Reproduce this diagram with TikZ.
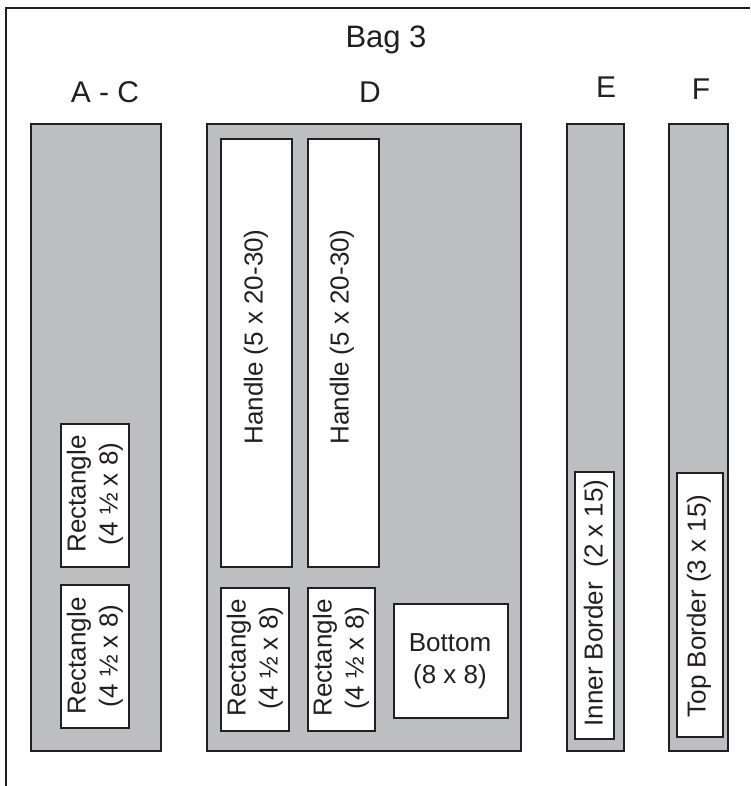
\documentclass[tikz,border=0pt]{standalone}
\usepackage{fontspec}
\setmainfont{Liberation Sans}
\definecolor{ink}{HTML}{231F20}
\definecolor{panelgray}{HTML}{BCBEC0}
\begin{document}
\begin{tikzpicture}[x=1pt,y=-1pt,
  panel/.style={draw=ink, fill=panelgray, line width=2pt, rectangle, inner sep=0pt, anchor=north west},
  piece/.style={draw=ink, fill=white, line width=2pt, rectangle, inner sep=0pt, anchor=north west},
  lbl/.style={text=ink, font=\fontsize{26}{32}\selectfont, align=center, inner sep=0pt},
  ttl/.style={text=ink, font=\fontsize{30}{36}\selectfont, inner sep=0pt, anchor=base}]
\useasboundingbox (0,0) rectangle (750,786);
% frame
\coordinate (fbl) at (6,786);
\coordinate (ftl) at (6,8);
\coordinate (ftr) at (750,8);
\draw[ink, line width=2pt] (fbl) -- (ftl) -- (ftr);
% titles
\node[ttl, font=\fontsize{31}{36}\selectfont] (bag) at (386,48) {Bag 3};
\node[ttl] (tac) at (105,103) {A - C};
\node[ttl] (td) at (370,103) {D};
\node[ttl] (te) at (606,98) {E};
\node[ttl] (tf) at (701,100) {F};
% panels
\node[panel, minimum width=130pt, minimum height=627pt] (ac) at (30,123) {};
\node[panel, minimum width=314pt, minimum height=627pt] (d) at (206,123) {};
\node[panel, minimum width=57pt, minimum height=627pt] (e) at (566,123) {};
\node[panel, minimum width=59pt, minimum height=627pt] (f) at (668,123) {};
% pieces
\node[piece, minimum width=68pt, minimum height=143pt] (ac1) at (60,423) {};
\node[piece, minimum width=68pt, minimum height=143pt] (ac2) at (60,584) {};
\node[piece, minimum width=71pt, minimum height=428pt] (h1) at (220,138) {};
\node[piece, minimum width=71pt, minimum height=428pt] (h2) at (307,138) {};
\node[piece, minimum width=68pt, minimum height=143pt] (d1) at (220,587) {};
\node[piece, minimum width=67pt, minimum height=143pt] (d2) at (307,587) {};
\node[piece, minimum width=114pt, minimum height=114pt] (bot) at (393,603) {};
\node[piece, minimum width=39pt, minimum height=267pt] (ib) at (574,471) {};
\node[piece, minimum width=46pt, minimum height=264pt] (tb) at (676,472) {};
% labels
\node[lbl, rotate=90] (lac1) at (95,494) {Rectangle\\(4 ½ x 8)};
\node[lbl, rotate=90] (lac2) at (95,656) {Rectangle\\(4 ½ x 8)};
\node[lbl, rotate=90] (ld1) at (255,658) {Rectangle\\(4 ½ x 8)};
\node[lbl, rotate=90] (ld2) at (341,658) {Rectangle\\(4 ½ x 8)};
\node[lbl, rotate=90] (lh1) at (256,337) {Handle (5 x 20-30)};
\node[lbl, rotate=90] (lh2) at (342,337) {Handle (5 x 20-30)};
\node[lbl] (lbot) at (450,661) {Bottom\\(8 x 8)};
\node[lbl, rotate=90] (lib) at (596,603) {Inner Border\ \ (2 x 15)};
\node[lbl, rotate=90] (ltb) at (699,606) {Top Border (3 x 15)};
\end{tikzpicture}
\end{document}
